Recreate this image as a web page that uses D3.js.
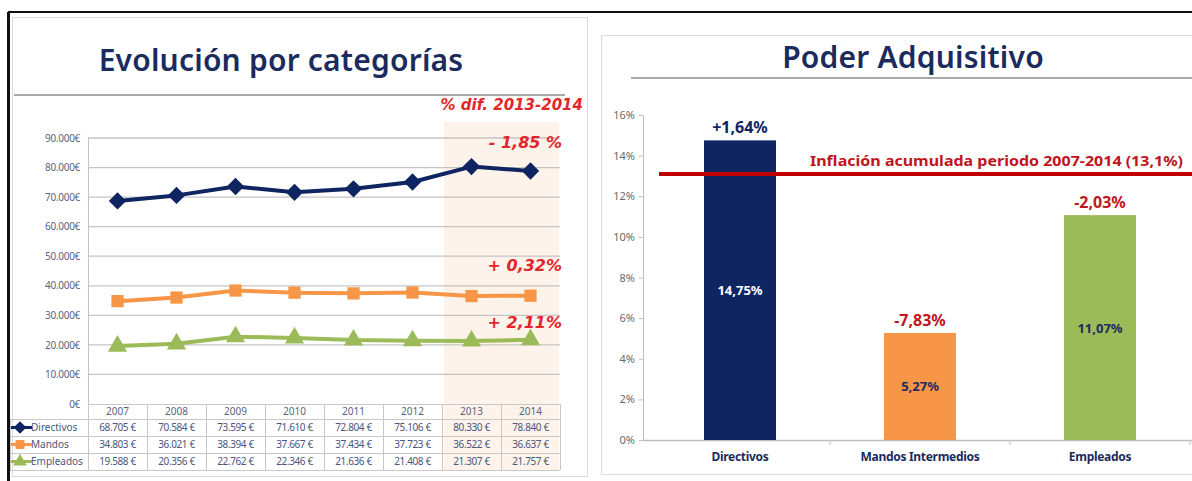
<!DOCTYPE html>
<html><head><meta charset="utf-8">
<script src="https://cdn.jsdelivr.net/npm/d3@7"></script>
<style>body{margin:0;background:#fff}svg{display:block}</style>
</head><body>
<svg id="c" width="1192" height="481"></svg>
<script>
// ---------- DATA ----------
const years = ["2007","2008","2009","2010","2011","2012","2013","2014"];
const directivos = [68705,70584,73595,71610,72804,75106,80330,78840];
const mandos = [34803,36021,38394,37667,37434,37723,36522,36637];
const empleados = [19588,20356,22762,22346,21636,21408,21307,21757];
const seriesNames = ["Directivos","Mandos","Empleados"];
const difLabels = ["- 1,85 %","+ 0,32%","+ 2,11%"];
const yTicksLeft = [0,10000,20000,30000,40000,50000,60000,70000,80000,90000];

const barCategories = ["Directivos","Mandos Intermedios","Empleados"];
const barValues = [14.75,5.27,11.07];
const barDiffLabels = ["+1,64%","-7,83%","-2,03%"];
const inflation = 13.1;
const yTicksRight = [0,2,4,6,8,10,12,14,16];

// ---------- STYLE ----------
const navy="#0f2561", orange="#f79646", green="#9bbb59", red="#e3262b", darkRed="#c0151b";
const FONT="'Noto Sans', 'DejaVu Sans', sans-serif";
const svg=d3.select("#c");

// frame
svg.append("line").attr("x1",8).attr("x2",1192).attr("y1",12).attr("y2",12).attr("stroke","#111").attr("stroke-width",2);
svg.append("line").attr("x1",8.5).attr("x2",8.5).attr("y1",12).attr("y2",481).attr("stroke","#111").attr("stroke-width",3);
svg.append("rect").attr("x",12.5).attr("y",17.5).attr("width",575).attr("height",459).attr("fill","none").attr("stroke","#dcdcdc");
svg.append("rect").attr("x",601.5).attr("y",35.5).attr("width",600).attr("height",439).attr("fill","none").attr("stroke","#dcdcdc");

// ================= LEFT CHART =================
const L = svg.append("g");
L.append("text").attr("x",281).attr("y",71).attr("text-anchor","middle")
  .attr("font-family",FONT).attr("font-size",30).attr("font-weight",600).attr("letter-spacing",0.2).attr("fill","#1b2b5e")
  .text("Evolución por categorías");
L.append("line").attr("x1",14).attr("x2",565).attr("y1",95).attr("y2",95).attr("stroke","#a9a9a9").attr("stroke-width",2);

const x = d3.scaleBand().domain(years).range([88,560]).padding(0);
const y = d3.scaleLinear().domain([0,90000]).range([404,138]);
const loc = d3.formatLocale({decimal:",",thousands:".",grouping:[3],currency:[""," €"]});
const fmt = loc.format(",");

// shading 2013-2014
L.append("rect").attr("x",x("2013")+2).attr("y",122).attr("width",x("2014")+x.bandwidth()-x("2013")-3)
  .attr("height",471-122).attr("fill","#fdf3ea");

// gridlines
L.append("g").selectAll("line").data(yTicksLeft.filter(d=>d>0)).join("line")
  .attr("x1",88).attr("x2",560).attr("y1",d=>y(d)).attr("y2",d=>y(d))
  .attr("stroke","#c4c4c4").attr("stroke-width",1.3);
L.append("line").attr("x1",88.5).attr("x2",88.5).attr("y1",y(90000)).attr("y2",y(0)).attr("stroke","#c4c4c4");

// y axis labels
const yAx = d3.axisLeft(y).tickValues(yTicksLeft).tickSize(0).tickPadding(8).tickFormat(d=>fmt(d)+"€");
const gy = L.append("g").attr("transform","translate(80,0)").call(yAx);
gy.select(".domain").remove();
gy.selectAll("text").attr("font-family",FONT).attr("font-size",10).attr("fill","#5a6480").attr("dx",8).attr("letter-spacing",-0.3);

// annotations
L.append("text").attr("x",583).attr("y",110).attr("text-anchor","end").attr("font-family","'DejaVu Sans', sans-serif")
  .attr("font-style","italic").attr("font-size",15).attr("font-weight",600).attr("fill",red).text("% dif. 2013-2014");
const difY = [148,271,328];
difLabels.forEach((t,i)=>{
  L.append("text").attr("x",562).attr("y",difY[i]).attr("text-anchor","end").attr("font-family","'DejaVu Sans', sans-serif")
   .attr("font-style","italic").attr("font-weight",600).attr("font-size",16).attr("fill",red).text(t);
});

// lines
const diamond = {draw(ctx,size){const r=Math.sqrt(size/2);ctx.moveTo(0,-r);ctx.lineTo(r,0);ctx.lineTo(0,r);ctx.lineTo(-r,0);ctx.closePath();}};
const series = [
  {name:"Directivos",vals:directivos,color:navy,sym:diamond,size:150},
  {name:"Mandos",vals:mandos,color:orange,sym:d3.symbolSquare,size:150},
  {name:"Empleados",vals:empleados,color:green,sym:d3.symbolTriangle,size:160}
];
const line = d3.line().x((d,i)=>x(years[i])+x.bandwidth()/2).y(d=>y(d));
series.forEach(s=>{
  L.append("path").datum(s.vals).attr("d",line).attr("fill","none").attr("stroke",s.color).attr("stroke-width",4).attr("stroke-linejoin","round");
  L.append("g").selectAll("path").data(s.vals).join("path")
    .attr("transform",(d,i)=>`translate(${x(years[i])+x.bandwidth()/2},${y(d)})`)
    .attr("d",d3.symbol().type(s.sym).size(s.size)).attr("fill",s.color);
});

// data table
const rowTop=[404,419,436,453,470];
const tg = L.append("g");
const gridC="#c8c8c8";
rowTop.forEach((yy,i)=>{
  tg.append("line").attr("x1",i===0?88:10).attr("x2",560).attr("y1",yy+0.5).attr("y2",yy+0.5).attr("stroke",gridC);
});
years.forEach(yr=>{
  tg.append("line").attr("x1",x(yr)+0.5).attr("x2",x(yr)+0.5).attr("y1",404).attr("y2",470).attr("stroke",gridC);
});
tg.append("line").attr("x1",560.5).attr("x2",560.5).attr("y1",404).attr("y2",470).attr("stroke",gridC);
tg.append("line").attr("x1",10.5).attr("x2",10.5).attr("y1",419).attr("y2",470).attr("stroke",gridC);
years.forEach(yr=>{
  tg.append("text").attr("x",x(yr)+x.bandwidth()/2).attr("y",415).attr("text-anchor","middle")
    .attr("font-family",FONT).attr("font-size",10).attr("fill","#5a6480").text(yr);
});
series.forEach((s,r)=>{
  const cy=(rowTop[r+1]+rowTop[r+2])/2;
  s.vals.forEach((v,i)=>{
    tg.append("text").attr("x",x(years[i])+x.bandwidth()/2).attr("y",cy+3.5).attr("text-anchor","middle")
      .attr("font-family",FONT).attr("font-size",10).attr("letter-spacing",-0.4).attr("fill","#4a5580").text(fmt(v)+" €");
  });
  tg.append("line").attr("x1",11).attr("x2",32).attr("y1",cy).attr("y2",cy).attr("stroke",s.color).attr("stroke-width",3);
  tg.append("path").attr("transform",`translate(20,${cy})`).attr("d",d3.symbol().type(s.sym).size(80)).attr("fill",s.color);
  tg.append("text").attr("x",31).attr("y",cy+3.5).attr("font-family",FONT).attr("font-size",10).attr("fill","#4a5580").text(s.name);
});

// ================= RIGHT CHART =================
const R = svg.append("g");
R.append("text").attr("x",913).attr("y",68).attr("text-anchor","middle")
  .attr("font-family",FONT).attr("font-size",30).attr("font-weight",600).attr("letter-spacing",0.2).attr("fill","#1b2b5e").text("Poder Adquisitivo");
R.append("line").attr("x1",631).attr("x2",1192).attr("y1",78).attr("y2",78).attr("stroke","#a9a9a9").attr("stroke-width",2);

const xb = d3.scaleBand().domain(barCategories).range([650,1190]).paddingInner(0.6).paddingOuter(0.3);
const yb = d3.scaleLinear().domain([0,16]).range([440,115]);

const gyb = R.append("g").attr("transform","translate(643,0)")
  .call(d3.axisLeft(yb).tickValues(yTicksRight).tickSize(4).tickPadding(4).tickFormat(d=>d+"%"));
gyb.select(".domain").attr("stroke","#bfbfbf");
gyb.selectAll(".tick line").attr("stroke","#bfbfbf");
gyb.selectAll("text").attr("font-family",FONT).attr("font-size",11).attr("fill","#6a6a6a");

R.append("line").attr("x1",643).attr("x2",1192).attr("y1",440.5).attr("y2",440.5).attr("stroke","#bfbfbf").attr("stroke-width",1.5);
const step = xb.step();
[1,2,3].forEach(k=>{
  const bx = 650 + step*k;
  R.append("line").attr("x1",bx).attr("x2",bx).attr("y1",440).attr("y2",445).attr("stroke","#bfbfbf");
});

const barColors=[navy,orange,green];
R.append("g").selectAll("rect").data(barValues).join("rect")
  .attr("x",(d,i)=>xb(barCategories[i])).attr("width",xb.bandwidth())
  .attr("y",d=>yb(d)).attr("height",d=>yb(0)-yb(d)).attr("fill",(d,i)=>barColors[i]);

R.append("line").attr("x1",659).attr("x2",1192).attr("y1",yb(inflation)).attr("y2",yb(inflation)).attr("stroke","#c00000").attr("stroke-width",4);
R.append("text").attr("x",810).attr("y",166).attr("font-family",FONT).attr("font-weight","bold").attr("font-size",14)
  .attr("fill",darkRed).attr("textLength",373).attr("lengthAdjust","spacingAndGlyphs")
  .text("Inflación acumulada  periodo 2007-2014  (13,1%)");

const diffColors=[navy,darkRed,darkRed];
barValues.forEach((v,i)=>{
  const cx = xb(barCategories[i])+xb.bandwidth()/2;
  R.append("text").attr("x",cx).attr("y",yb(v)-7).attr("text-anchor","middle").attr("font-family",FONT)
    .attr("font-weight","bold").attr("font-size",16).attr("fill",diffColors[i]).text(barDiffLabels[i]);
  R.append("text").attr("x",cx).attr("y",(yb(v)+yb(0))/2+5).attr("text-anchor","middle").attr("font-family",FONT)
    .attr("font-weight","bold").attr("font-size",13).attr("fill",i===0?"#fff":"#1b2b5e")
    .text(d3.format(".2f")(v).replace(".",",")+"%");
  R.append("text").attr("x",cx).attr("y",461).attr("text-anchor","middle").attr("font-family",FONT)
    .attr("font-weight","bold").attr("font-size",12).attr("fill","#1b2b5e").attr("letter-spacing",-0.3).text(barCategories[i]);
});
</script>
</body></html>
